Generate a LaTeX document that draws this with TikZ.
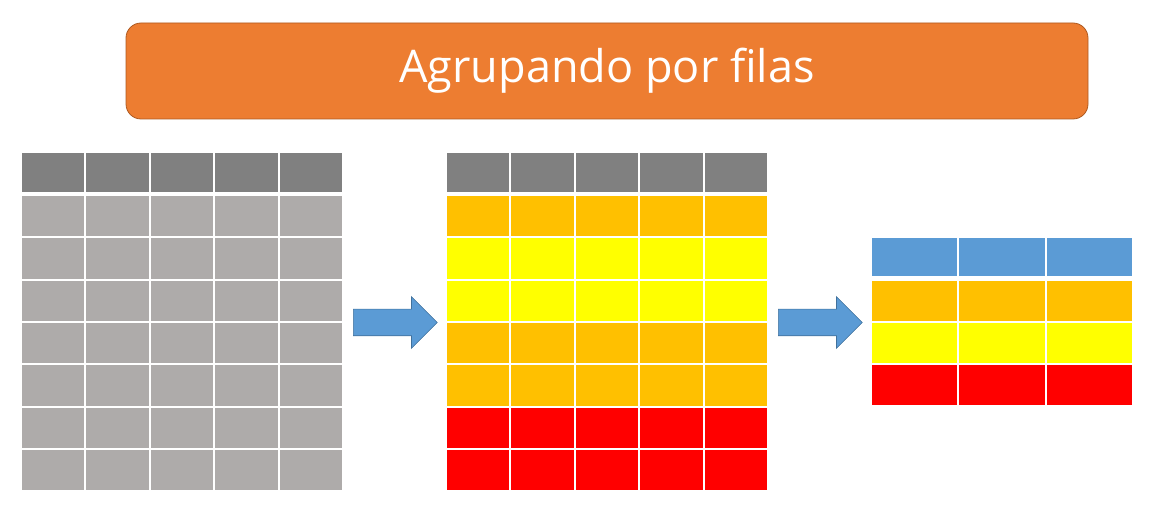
\documentclass[tikz,border=0pt]{standalone}
\usepackage{fontspec}
\setmainfont{Open Sans}
\usetikzlibrary{shapes.arrows}
\definecolor{headgray}{HTML}{808080}
\definecolor{rowgray}{HTML}{AEABAA}
\definecolor{rowamber}{HTML}{FFC000}
\definecolor{rowyellow}{HTML}{FFFF00}
\definecolor{rowred}{HTML}{FF0000}
\definecolor{headblue}{HTML}{5B9BD5}
\definecolor{titleorange}{HTML}{ED7D31}
\definecolor{titleline}{HTML}{AE5A21}
\definecolor{arrowline}{HTML}{41719C}
\tikzset{
  cell/.style = {rectangle, draw=white, line width=2pt, inner sep=0pt,
                 minimum width=64.4pt, minimum height=42.3pt},
  headcell/.style = {cell, minimum height=41pt},
  widecell/.style = {cell, minimum width=87.33pt, minimum height=41.8pt},
  wideheadcell/.style = {widecell, minimum height=40.5pt},
  bigarrow/.style = {single arrow, draw=arrowline, fill=headblue, line width=0.6pt,
                     inner xsep=0pt, inner ysep=13pt, minimum height=84pt,
                     single arrow head extend=12.5pt, anchor=tail}
}
\begin{document}
\begin{tikzpicture}[x=1pt, y=-1pt]
  \useasboundingbox (0,0) rectangle (1163,513);
  % title
  \node[rectangle, rounded corners=15pt, fill=titleorange, draw=titleline, line width=0.8pt,
        minimum width=962pt, minimum height=96pt, text=white,
        font=\fontsize{45}{54}\selectfont] (title) at (607,71) {Agrupando por filas};
  % left table: all rows grey
  \foreach \c in {1,...,5} {
    \node[headcell, fill=headgray] (L-0-\c) at ({21+64.4*(\c-0.5)},172.5) {};
    \foreach \r in {1,...,7}
      \node[cell, fill=rowgray] (L-\r-\c) at ({21+64.4*(\c-0.5)},{195+42.3*(\r-0.5)}) {};
  }
  % middle table: rows coloured by group
  \foreach \c in {1,...,5} {
    \node[headcell, fill=headgray] (M-0-\c) at ({446+64.4*(\c-0.5)},172.5) {};
    \foreach \r/\col in {1/rowamber,2/rowyellow,3/rowyellow,4/rowamber,5/rowamber,6/rowred,7/rowred}
      \node[cell, fill=\col] (M-\r-\c) at ({446+64.4*(\c-0.5)},{195+42.3*(\r-0.5)}) {};
  }
  % right table: one row per group
  \foreach \c in {1,...,3} {
    \node[wideheadcell, fill=headblue] (R-0-\c) at ({871+87.33*(\c-0.5)},257.25) {};
    \foreach \r/\col in {1/rowamber,2/rowyellow,3/rowred}
      \node[widecell, fill=\col] (R-\r-\c) at ({871+87.33*(\c-0.5)},{280.5+41.8*(\r-0.5)}) {};
  }
  % arrows
  \node[bigarrow] (arrow1) at (353,322.5) {};
  \node[bigarrow] (arrow2) at (778,322.5) {};
\end{tikzpicture}
\end{document}
